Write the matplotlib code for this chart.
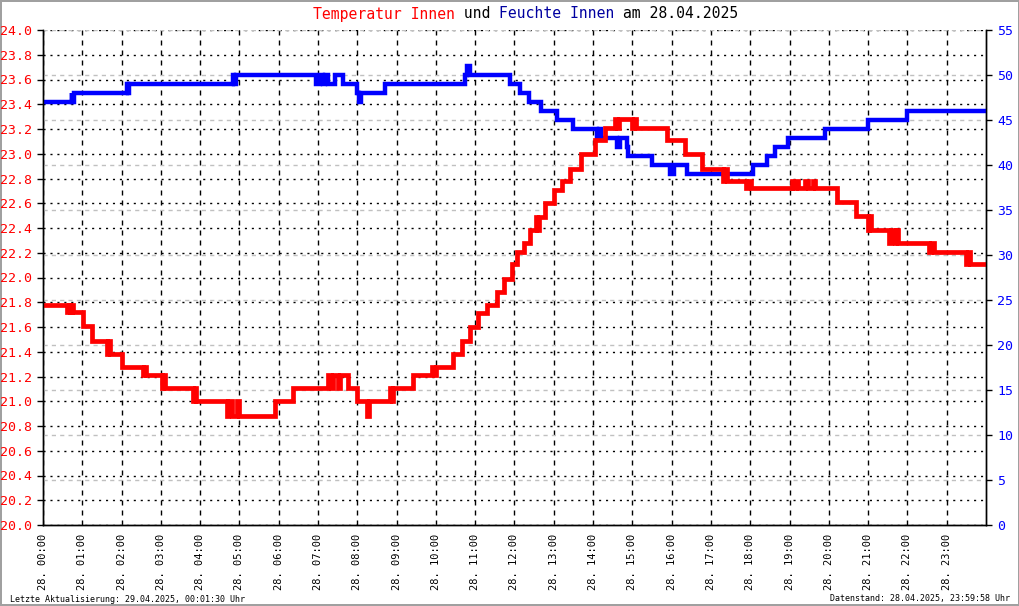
import matplotlib
matplotlib.use('Agg')
import matplotlib.pyplot as plt

plt.rcParams['font.family'] = ['DejaVu Sans Mono']
plt.rcParams['lines.scale_dashes'] = False

# Temperatur Innen: (Stunde, Wert) Wechselpunkte
temp_h = [0.00, 0.61, 0.65, 0.69, 0.73, 0.77, 1.02, 1.25, 1.63, 1.66, 1.70, 2.00, 2.55, 2.58,
          2.62, 3.02, 3.06, 3.10, 3.82, 3.86, 3.90, 4.68, 4.71, 4.81, 4.94, 4.99, 5.90, 6.35,
          7.26, 7.34, 7.38, 7.50, 7.56, 7.76, 8.00, 8.25, 8.29, 8.83, 8.87, 8.92, 9.42, 9.90,
          9.94, 10.00, 10.43, 10.66, 10.87, 11.07, 11.30, 11.55, 11.73, 11.93, 12.07, 12.24,
          12.39, 12.55, 12.58, 12.62, 12.77, 13.00, 13.20, 13.40, 13.70, 14.05, 14.30, 14.55,
          14.60, 14.66, 15.00, 15.05, 15.10, 15.87, 16.33, 16.77, 17.30, 17.34, 17.40, 17.90,
          17.95, 18.03, 19.05, 19.09, 19.17, 19.21, 19.40, 19.47, 19.60, 19.64, 20.20, 20.70,
          21.00, 21.03, 21.07, 21.53, 21.58, 21.68, 21.72, 21.75, 22.55, 22.60, 22.68, 23.50,
          23.55, 23.60, 24.00]
temp_v = [21.78, 21.72, 21.78, 21.72, 21.78, 21.72, 21.61, 21.49, 21.38, 21.49, 21.38, 21.28, 21.21, 21.28,
          21.21, 21.11, 21.21, 21.11, 21.00, 21.11, 21.00, 20.88, 21.00, 20.88, 21.00, 20.88, 21.00, 21.11,
          21.21, 21.11, 21.21, 21.11, 21.21, 21.11, 21.00, 20.88, 21.00, 21.11, 21.00, 21.11, 21.21, 21.28,
          21.21, 21.28, 21.38, 21.49, 21.60, 21.71, 21.78, 21.88, 21.99, 22.11, 22.21, 22.28,
          22.38, 22.49, 22.38, 22.49, 22.60, 22.71, 22.78, 22.88, 23.00, 23.11, 23.21, 23.28,
          23.21, 23.28, 23.21, 23.28, 23.21, 23.11, 23.00, 22.88, 22.78, 22.88, 22.78, 22.72,
          22.78, 22.72, 22.78, 22.72, 22.78, 22.72, 22.78, 22.72, 22.78, 22.72, 22.61, 22.50,
          22.38, 22.50, 22.38, 22.28, 22.38, 22.28, 22.38, 22.28, 22.21, 22.28, 22.21, 22.11,
          22.21, 22.11, 22.11]

# Feuchte Innen
hum_h = [0.00, 0.73, 0.75, 0.78, 2.14, 2.17, 2.20, 4.84, 4.86, 4.90, 6.95, 7.05, 7.13, 7.18,
         7.25, 7.43, 7.63, 8.00, 8.05, 8.09, 8.70, 10.74, 10.80, 10.86, 11.88, 12.14, 12.37,
         12.67, 13.08, 13.49, 14.10, 14.14, 14.20, 14.60, 14.68, 14.86, 14.90, 15.50, 15.96,
         16.05, 16.38, 18.07, 18.42, 18.63, 18.96, 19.90, 21.00, 22.00, 24.00]
hum_v = [47, 48, 47, 48, 49, 48, 49, 50, 49, 50, 49, 50, 49, 50,
         49, 50, 49, 48, 47, 48, 49, 50, 51, 50, 49, 48, 47,
         46, 45, 44, 43, 44, 43, 42, 43, 42, 41, 40, 39,
         40, 39, 40, 41, 42, 43, 44, 45, 46, 46]

hours = list(range(24))
xlabels = ['28. %02d:00' % h for h in hours]
temp_ticks = [20.0 + 0.2 * i for i in range(21)]
hum_ticks = list(range(0, 60, 5))

fig = plt.figure(figsize=(10.2, 6.06), dpi=100)
fig.patch.set_edgecolor('#a0a0a0')
fig.patch.set_linewidth(1.5)
ax = fig.add_axes([43 / 1020, 1 - 525 / 606, 943 / 1020, 495 / 606])
ax2 = ax.twinx()

ax.set_xlim(0, 24)
ax.set_ylim(20, 24)
ax2.set_ylim(0, 55)

ax.set_xticks(hours)
ax.set_xticklabels(xlabels, rotation=90, fontsize=7.5, va='top', ha='center')
ax.tick_params(axis='x', length=0, pad=6)
ax.set_yticks(temp_ticks)
ax.set_yticklabels(['%.1f' % t for t in temp_ticks], color='red', fontsize=9.5)
ax.tick_params(axis='y', length=4, width=1, pad=4)
ax2.set_yticks(hum_ticks)
ax2.set_yticklabels([str(v) for v in hum_ticks], color='#0000ff', fontsize=9.5)
ax2.tick_params(axis='y', length=4, width=1, pad=4)

for a in (ax, ax2):
    a.spines['top'].set_visible(False)
    for s in ('left', 'right', 'bottom'):
        a.spines[s].set_linewidth(1.0)

ax.grid(axis='y', color='black', linestyle=(0, (1.5, 3.5)), linewidth=1.0)
ax.grid(axis='x', color='black', linestyle=(0, (3.6, 3.6)), linewidth=1.0)
ax2.grid(axis='y', color='#c0c0c0', linestyle=(0, (3, 3)), linewidth=1.0)

ax2.plot(hum_h, hum_v, drawstyle='steps-post', color='#0000ff', linewidth=3.2,
         solid_joinstyle='miter')
ax2.plot(temp_h, temp_v, drawstyle='steps-post', color='#ff0000', linewidth=3.4,
         solid_joinstyle='miter', transform=ax.transData)

# Titel in Teilen, Monospace-Zeichenbreite
parts = [('Temperatur Innen', '#ff0000'), (' und ', 'black'),
         ('Feuchte Innen', '#0000a0'), (' am 28.04.2025', 'black')]
fs = 10.6
cw = 0.602 * fs * 100 / 72 / 1020
x0 = 313 / 1020
for txt, col in parts:
    fig.text(x0, 1 - 14 / 606, txt, color=col, fontsize=fs, ha='left', va='center')
    x0 += len(txt) * cw

fig.text(10 / 1020, 1 - 599 / 606, 'Letzte Aktualisierung: 29.04.2025, 00:01:30 Uhr',
         fontsize=6, ha='left', va='center')
fig.text(1010 / 1020, 1 - 599 / 606, 'Datenstand: 28.04.2025, 23:59:58 Uhr',
         fontsize=6, ha='right', va='center')

fig.savefig('out.png', dpi=100)
